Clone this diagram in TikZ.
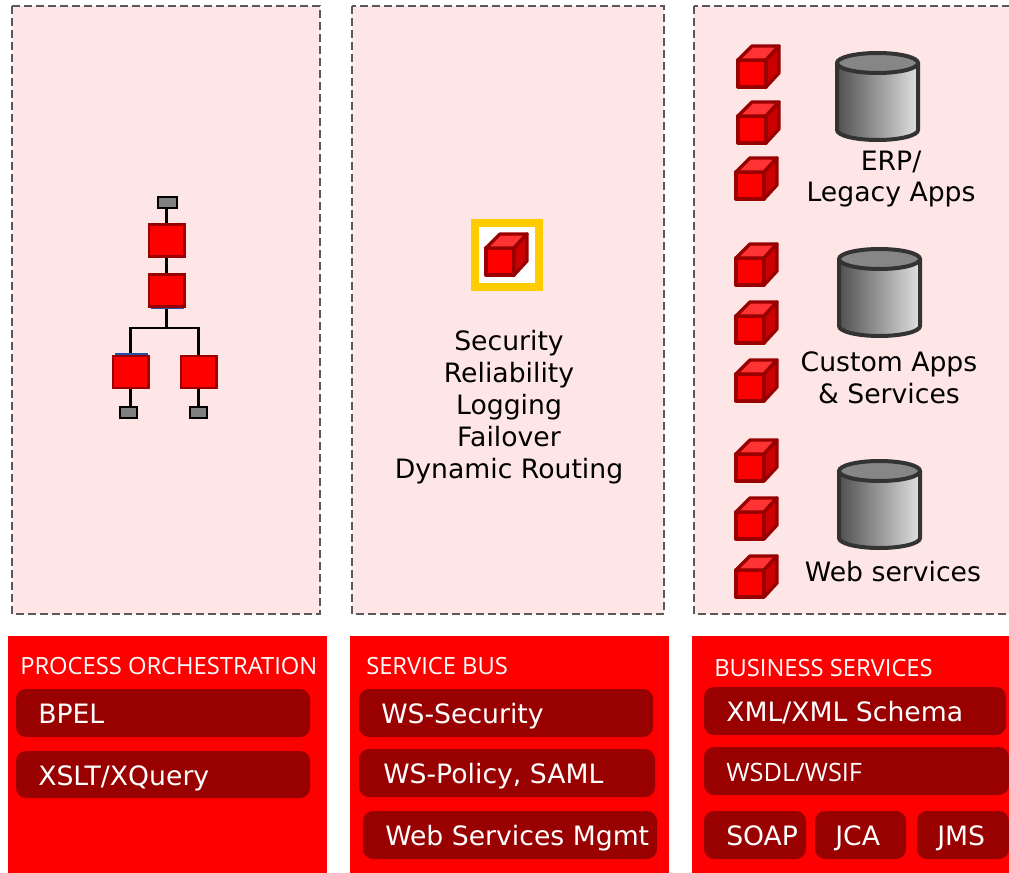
\documentclass[tikz,border=0pt]{standalone}
\usepackage{fontspec}
\setmainfont{DejaVu Sans}
\newfontfamily\narrowfont{Open Sans}
\definecolor{panelpink}{HTML}{FFE6E6}
\definecolor{dashgrey}{HTML}{595959}
\definecolor{pure}{HTML}{FF0000}
\definecolor{deep}{HTML}{990000}
\definecolor{midred}{HTML}{CC0000}
\definecolor{topred}{HTML}{FF3333}
\definecolor{goldy}{HTML}{FFCC00}
\definecolor{cyl}{HTML}{333333}
\definecolor{cylmid}{HTML}{808080}
\definecolor{cyldark}{HTML}{505050}
\definecolor{cyllight}{HTML}{E0E0E0}
\definecolor{blueline}{HTML}{1F4FA8}
\newcommand{\cubeat}[3]{% name, left, top
  \begin{scope}[shift={(#2,#3)}]
    \path[cubeface,fill=pure] (1,15)--(29,15)--(29,42)--(1,42)--cycle;
    \path[cubeface,fill=topred] (1,15)--(15,1)--(42,1)--(29,15)--cycle;
    \path[cubeface,fill=midred] (29,15)--(42,1)--(42,28)--(29,42)--cycle;
  \end{scope}
  \coordinate (#1) at (#2+21,#3+21);
}
\newcommand{\cylat}[3]{% name, left, top
  \begin{scope}[shift={(#2,#3)}]
    \path[left color=cyldark,right color=cyllight] (2,12) -- (2,79) arc[x radius=40.5,y radius=10,start angle=180,end angle=0] -- (83,12) -- cycle;
    \path[fill=cylmid!95] (42.5,12) ellipse[x radius=40.5,y radius=10];
    \draw[cyl,line width=3pt] (2,12) -- (2,79) arc[x radius=40.5,y radius=10,start angle=180,end angle=0] -- (83,12);
    \draw[cyl,line width=3pt] (42.5,12) ellipse[x radius=40.5,y radius=10];
  \end{scope}
  \coordinate (#1) at (#2+42,#3+45);
}
\tikzset{
  cubeface/.style={draw=deep,line width=2.5pt,line join=round},
  panel/.style={draw=dashgrey,fill=panelpink,line width=1.2pt,dash pattern=on 6pt off 3pt},
  redbox/.style={fill=pure},
  pill/.style={fill=deep,rounded corners=7.5pt},
  pilltext/.style={anchor=base west,text=white,inner sep=0pt,font=\fontsize{20}{24}\selectfont},
  headtext/.style={anchor=base west,text=white,inner sep=0pt,font=\fontsize{17.8}{21}\narrowfont},
  narrowtext/.style={anchor=base west,text=white,inner sep=0pt,font=\fontsize{19}{22}\narrowfont},
  body/.style={anchor=base,text=black,inner sep=0pt,font=\fontsize{20}{24}\selectfont},
  gate/.style={draw=black,fill=black!50,line width=1.5pt,inner sep=0pt},
  task/.style={draw=deep,fill=pure,line width=2pt,inner sep=0pt,minimum width=26.5pt,minimum height=24pt},
  link/.style={draw=black,line width=1.6pt},
  accent/.style={draw=blueline,line width=0.9pt},
}
\begin{document}
\begin{tikzpicture}[x=0.75pt,y=-0.75pt]
\useasboundingbox (0,0) rectangle (1009,873);
\fill[white] (0,0) rectangle (1009,873);
% panels
\path[panel] (12,6) rectangle (320,614);
\path[panel] (352,6) rectangle (664,614);
\path[panel] (694,6) rectangle (1012,614);
% flow in left panel
\node[gate,minimum width=14pt,minimum height=8.5pt] (g1) at (167.5,202.5) {};
\node[task] (t1) at (166.5,240.5) {};
\node[task] (t2) at (166.5,290.5) {};
\coordinate (j) at (166.5,328);
\coordinate (jl) at (130.5,328);
\coordinate (jr) at (198.5,328);
\node[task] (t3) at (130.5,372) {};
\node[task] (t4) at (198.5,372) {};
\node[gate,minimum width=13pt,minimum height=8.5pt] (g2) at (128.5,412.5) {};
\node[gate,minimum width=13pt,minimum height=8.5pt] (g3) at (198.5,412.5) {};
\draw[link] (g1.south-|t1.north) -- (t1);
\draw[link] (t1) -- (t2);
\draw[link] (t2) -- (j);
\draw[link,line cap=rect] (jl) -- (jr);
\draw[link] (jl) -- (t3);
\draw[link] (jr) -- (t4);
\draw[link] (t3.south) -- (t3.south|-g2.north);
\draw[link] (t4) -- (g3);
\draw[accent] (151,308.5) -- (184,308.5);
\draw[accent] (115,354) -- (148,354);
% centre panel
\draw[goldy,line width=6pt,fill=white] (475,223) rectangle (539,287);
\cubeat{c0}{485}{233}
\node[body] at (509,350) {Security};
\node[body] at (509,382) {Reliability};
\node[body] at (509,414) {Logging};
\node[body] at (509,446) {Failover};
\node[body] at (509,478) {Dynamic Routing};
% right panel
\cubeat{c1}{737}{45}
\cubeat{c2}{737}{101}
\cubeat{c3}{735}{157}
\cubeat{c4}{735}{243}
\cubeat{c5}{735}{301}
\cubeat{c6}{735}{359}
\cubeat{c7}{735}{439}
\cubeat{c8}{735}{497}
\cubeat{c9}{735}{555}
\cylat{d1}{835}{51}
\cylat{d2}{837}{247}
\cylat{d3}{837}{459}
\node[body] at (891,171) {ERP/};
\node[body] at (891,202) {Legacy Apps};
\node[body] at (889,371) {Custom Apps};
\node[body] at (889,403) {\& Services};
\node[body] at (893,581) {Web services};
% red boxes
\path[redbox] (8,636) rectangle (327,873);
\path[redbox] (350,636) rectangle (669,873);
\path[redbox] (692,636) rectangle (1009,873);
\node[headtext] at (20,674) {PROCESS ORCHESTRATION};
\node[headtext] at (366,674) {SERVICE BUS};
\node[headtext] at (714,676) {BUSINESS SERVICES};
\path[pill] (16,689) rectangle (310,737);
\path[pill] (16,751) rectangle (310,798);
\path[pill] (359,689) rectangle (653,737);
\path[pill] (359,749) rectangle (655,797);
\path[pill] (363,811) rectangle (657,859);
\path[pill] (704,687) rectangle (1006,735);
\path[pill] (704,747) rectangle (1009,795);
\path[pill] (704,811) rectangle (806,859);
\path[pill] (815,811) rectangle (906,859);
\path[pill] (917,811) rectangle (1009,859);
\node[pilltext] at (38,723) {BPEL};
\node[pilltext] at (38,785) {XSLT/XQuery};
\node[pilltext] at (381,723) {WS-Security};
\node[pilltext] at (383,783) {WS-Policy, SAML};
\node[pilltext] at (385,845) {Web Services Mgmt};
\node[pilltext] at (726,721) {XML/XML Schema};
\node[narrowtext] at (726,781) {WSDL/WSIF};
\node[pilltext] at (726,845) {SOAP};
\node[pilltext] at (835,845) {JCA};
\node[pilltext] at (937,845) {JMS};
\end{tikzpicture}
\end{document}
